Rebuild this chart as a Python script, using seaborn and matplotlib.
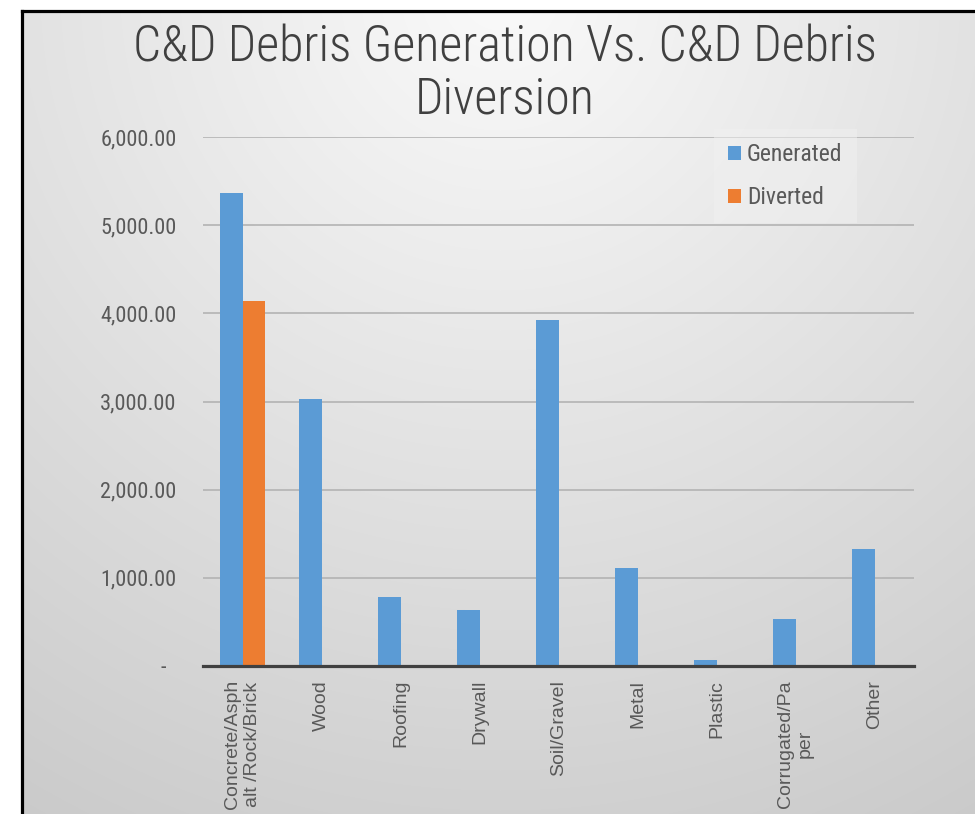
import matplotlib
matplotlib.use('Agg')
import matplotlib.pyplot as plt
import seaborn as sns
import numpy as np
import pandas as pd
from matplotlib.ticker import FuncFormatter, FixedLocator

# C&D debris tonnage
categories = ['Concrete/Asph\nalt /Rock/Brick', 'Wood', 'Roofing', 'Drywall', 'Soil/Gravel',
              'Metal', 'Plastic', 'Corrugated/Pa\nper', 'Other']
generated = [5360, 3030, 785, 635, 3920, 1115, 65, 535, 1325]
diverted = [4135, 0, 0, 0, 0, 0, 0, 0, 0]
series = ['Generated', 'Diverted']
y_ticks = [0, 1000, 2000, 3000, 4000, 5000, 6000]

data = pd.DataFrame({
    'material': categories * 2,
    'series': [series[0]] * len(generated) + [series[1]] * len(diverted),
    'tons': generated + diverted,
})

sns.set_theme(style='white')
plt.rcParams['font.family'] = ['Liberation Sans', 'DejaVu Sans']
narrow = ['Roboto Condensed', 'Liberation Sans', 'DejaVu Sans']
text_dark = '#404040'
text_grey = '#595959'

W, H = 975, 814
fig = plt.figure(figsize=(W / 100, H / 100), dpi=100)
fig.patch.set_facecolor('white')

# Excel-style radial gradient background inside a black frame
bg = fig.add_axes([0, 0, 1, 1], zorder=-10)
yy, xx = np.mgrid[0:H, 0:W]
dist = np.hypot(xx - 500, yy + 10)
shade = np.clip(250 - 0.05 * dist, 198, 252) / 255
img = np.dstack([shade] * 3)
img[:, :21] = 1
img[:10, :] = 1
bg.imshow(img, extent=[0, W, H, 0], aspect='auto', interpolation='bilinear')
bg.plot([21.5, 21.5], [H + 5, 10.5], color='black', lw=2.3, solid_capstyle='projecting')
bg.plot([21.5, W + 5], [10.5, 10.5], color='black', lw=2.3, solid_capstyle='projecting')
bg.set_xlim(0, W)
bg.set_ylim(H, 0)
bg.axis('off')

ax = fig.add_axes([203 / W, 1 - 666 / H, 711 / W, 529 / H])
ax.patch.set_alpha(0)

sns.barplot(data=data, x='material', y='tons', hue='series',
            palette=['#5B9BD5', '#ED7D31'], width=0.56, saturation=1,
            linewidth=0, ax=ax)

ax.set_ylim(0, 6000)
ax.set_xlim(-0.5, len(categories) - 0.5)
ax.yaxis.set_major_locator(FixedLocator(y_ticks))
ax.yaxis.set_major_formatter(FuncFormatter(lambda v, p: '-  ' if v == 0 else f'{v:,.2f}'))
ax.set_axisbelow(True)
ax.grid(axis='y', color='#b3b3b3', linewidth=1.2)
ax.set_xlabel('')
ax.set_ylabel('')

for side in ['top', 'right', 'left']:
    ax.spines[side].set_visible(False)
ax.spines['bottom'].set_color(text_dark)
ax.spines['bottom'].set_linewidth(2.3)

ax.tick_params(axis='y', length=0, pad=19, labelsize=16, labelcolor=text_grey)
ax.tick_params(axis='x', which='major', length=0, pad=10, labelsize=14, labelcolor=text_grey)
ax.set_xticks(np.arange(-0.5, len(categories), 1), minor=True)
ax.tick_params(axis='x', which='minor', length=6, width=2.3, color=text_dark, direction='out')
for lab in ax.get_yticklabels():
    lab.set_family(narrow)
for lab in ax.get_xticklabels():
    lab.set_rotation(90)
    lab.set_va('top')
    lab.set_ha('center')

handles, labels = ax.get_legend_handles_labels()
leg = ax.legend(handles, labels, loc='upper left', bbox_to_anchor=(702 / W, 1 - 117 / H),
                bbox_transform=fig.transFigure, frameon=True, facecolor='#f0f0f0',
                edgecolor='none', framealpha=0.5, fancybox=False, borderpad=0.6,
                handlelength=0.55, handleheight=0.55, handletextpad=0.25,
                labelspacing=0.85, prop={'family': narrow, 'size': 17})
for t in leg.get_texts():
    t.set_color(text_grey)

fig.text(505 / W, 1 - 74 / H, 'C&D Debris Generation Vs. C&D Debris\nDiversion',
         ha='center', va='center', fontsize=36, color=text_dark, family=narrow,
         fontweight='light', linespacing=1.12)

fig.savefig('out.png', dpi=100)
